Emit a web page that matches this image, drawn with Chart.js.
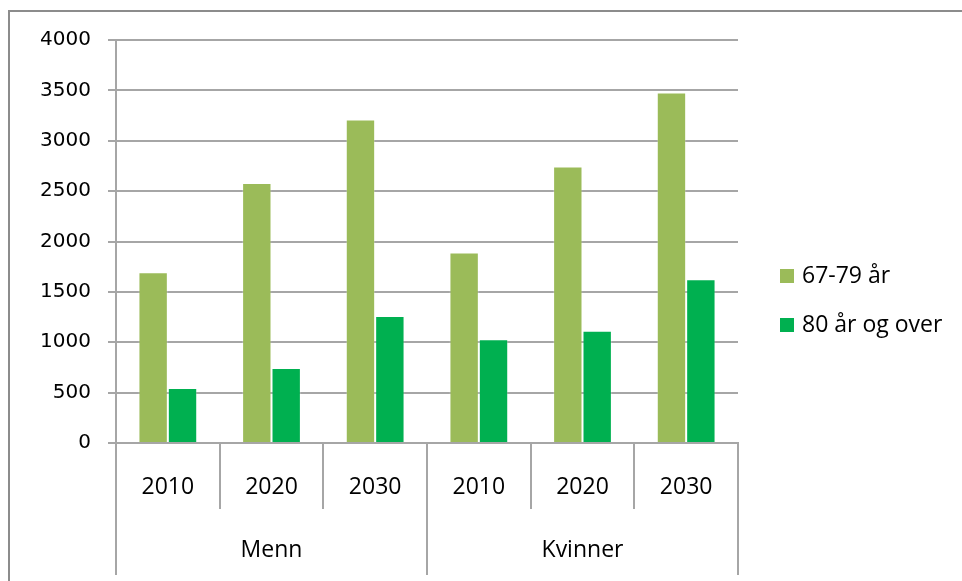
<!DOCTYPE html>
<html>
<head>
<meta charset="utf-8">
<title>Eldre etter alder og kjønn</title>
<script src="https://cdn.jsdelivr.net/npm/chart.js@4/dist/chart.umd.min.js"></script>
<style>
  html, body { margin: 0; padding: 0; background: #fff; overflow: hidden; }
  .frame {
    position: absolute; left: 8px; top: 10px; width: 980px; height: 600px;
    border-left: 2px solid #8c8c8c; border-top: 2px solid #8c8c8c;
  }
  #myChart { position: absolute; left: 0; top: 0; }
</style>
</head>
<body>
<div class="frame"></div>
<canvas id="myChart" width="962" height="581"></canvas>
<script>
var years = ['2010', '2020', '2030', '2010', '2020', '2030'];
var groups = ['Menn', 'Kvinner'];
var seriesNames = ['67-79 år', '80 år og over'];
var age67to79 = [1695, 2580, 3210, 1890, 2745, 3480];
var age80plus = [545, 745, 1260, 1030, 1115, 1625];
var yTicks = [0, 500, 1000, 1500, 2000, 2500, 3000, 3500, 4000];

var lineGrey = '#a6a6a6';
var labelFont = { family: 'Open Sans', size: 23 };

// legend on the right, drawn next to the plot like the original
var sideLegend = {
  id: 'sideLegend',
  afterDraw: function (chart) {
    var ctx = chart.ctx;
    var x = chart.chartArea.right + 42;
    ctx.save();
    ctx.font = '23px "Open Sans"';
    ctx.textBaseline = 'middle';
    chart.data.datasets.forEach(function (ds, i) {
      var y = 276 + i * 49;
      ctx.fillStyle = ds.backgroundColor;
      ctx.fillRect(x, y - 7, 14, 14);
      ctx.fillStyle = '#000';
      ctx.fillText(ds.label, x + 22, y);
    });
    ctx.restore();
  }
};

var ctx = document.getElementById('myChart');
var chart = new Chart(ctx, {
  type: 'bar',
  data: {
    labels: years,
    datasets: [
      { label: seriesNames[0], data: age67to79, backgroundColor: '#9BBB59',
        borderColor: 'rgba(255,255,255,0.25)', borderWidth: 1 },
      { label: seriesNames[1], data: age80plus, backgroundColor: '#00B050',
        borderColor: 'rgba(255,255,255,0.25)', borderWidth: 1 }
    ]
  },
  options: {
    responsive: false,
    animation: false,
    layout: { padding: { left: 0, top: 40, right: 224, bottom: 6 } },
    datasets: { bar: { categoryPercentage: 0.567, barPercentage: 1.0 } },
    plugins: {
      legend: { display: false },
      tooltip: { enabled: false }
    },
    scales: {
      x: {
        type: 'category',
        offset: true,
        weight: 0,
        grid: { offset: true, drawOnChartArea: false, tickLength: 66, color: lineGrey, lineWidth: 2 },
        border: { display: true, color: lineGrey, width: 2 },
        ticks: { font: labelFont, color: '#000', padding: -35, maxRotation: 0, autoSkip: false },
        afterFit: function (scale) { scale.height = 66; }
      },
      x2: {
        type: 'category',
        labels: groups,
        position: 'bottom',
        offset: true,
        weight: 1,
        grid: { offset: true, drawOnChartArea: false, tickLength: 66, color: lineGrey, lineWidth: 2 },
        border: { display: false },
        ticks: { font: labelFont, color: '#000', padding: -38, maxRotation: 0, autoSkip: false },
        afterFit: function (scale) { scale.height = 66; }
      },
      y: {
        min: yTicks[0],
        max: yTicks[yTicks.length - 1],
        ticks: {
          stepSize: yTicks[1] - yTicks[0],
          font: { family: 'DejaVu Sans', size: 20 },
          color: '#000',
          padding: 17,
          callback: function (value) { return String(value); }
        },
        grid: { color: lineGrey, lineWidth: 2, tickLength: 8 },
        border: { color: lineGrey, width: 2 },
        afterFit: function (scale) { scale.width = 116; }
      }
    }
  },
  plugins: [sideLegend]
});
</script>
</body>
</html>
